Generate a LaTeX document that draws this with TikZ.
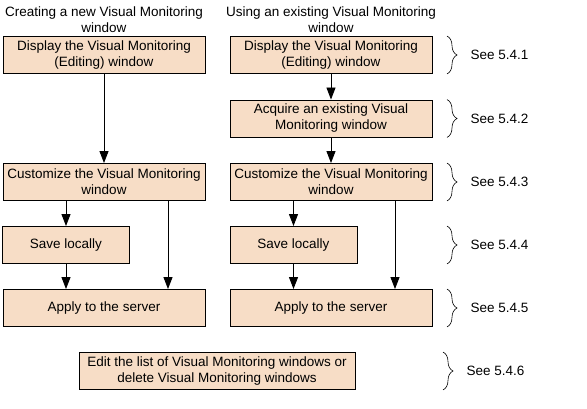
\documentclass[tikz,border=0pt]{standalone}
\usepackage{fontspec}
\setmainfont{Liberation Sans}
\usepackage{xcolor}
\usetikzlibrary{positioning, calc}
\usetikzlibrary{arrows.meta}
\usetikzlibrary{decorations.pathreplacing}
\definecolor{boxfill}{RGB}{247,221,198}

\begin{document}
\begin{tikzpicture}[x=1pt, y=-1pt,
  font=\fontsize{13.5}{16}\selectfont,
  stepbox/.style={draw, line width=0.9pt, fill=boxfill, align=center, inner sep=0pt, minimum height=37pt},
  wide/.style={stepbox, minimum width=202pt},
  half/.style={stepbox, minimum width=127pt},
  arr/.style={line width=0.9pt, -{Triangle[length=12pt, width=9pt]}},
  brc/.style={decorate, decoration={brace, amplitude=10pt}, line width=0.6pt},
  see/.style={midway, anchor=west, xshift=20pt}]
  \useasboundingbox (0,0) rectangle (587,409);
  % titles of the two ways
  \node[align=center] (headL) at (104,20) {Creating a new Visual Monitoring\\window};
  \node[align=center] (headR) at (331,20) {Using an existing Visual Monitoring\\window};
  % left column
  \node[wide] (dispL) at (104,55) {Display the Visual Monitoring\\(Editing) window};
  \node[wide] (custL) at (104,182) {Customize the Visual Monitoring\\window};
  \node[half] (saveL) at (66,245) {Save locally};
  \node[wide] (applyL) at (104,308) {Apply to the server};
  % right column
  \node[wide] (dispR) at (331,55) {Display the Visual Monitoring\\(Editing) window};
  \node[wide] (acq) at (331,118.5) {Acquire an existing Visual\\Monitoring window};
  \node[wide] (custR) at (331,182) {Customize the Visual Monitoring\\window};
  \node[half] (saveR) at (293.5,245) {Save locally};
  \node[wide] (applyR) at (331,308) {Apply to the server};
  \node[stepbox, minimum width=276pt] (edit) at (217,371) {Edit the list of Visual Monitoring windows or\\delete Visual Monitoring windows};

  \draw[arr] (dispL) -- (custL);
  \draw[arr] (custL.south -| saveL) -- (saveL);
  \draw[arr] (saveL) -- (saveL.south |- applyL.north);
  \draw[arr] ([xshift=64pt]custL.south) -- ([xshift=64pt]applyL.north);

  \draw[arr] (dispR) -- (acq);
  \draw[arr] (acq) -- (custR);
  \draw[arr] (custR.south -| saveR) -- (saveR);
  \draw[arr] (saveR) -- (saveR.south |- applyR.north);
  \draw[arr] ([xshift=64pt]custR.south) -- ([xshift=64pt]applyR.north);

  % section references
  \coordinate (bx) at (447,0);
  \foreach \n/\s in {dispR/5.4.1, acq/5.4.2, custR/5.4.3, saveR/5.4.4, applyR/5.4.5}
    \draw[brc] (\n.north -| bx) -- (\n.south -| bx) node[see] {See \s};
  \draw[brc] ([xshift=-4pt]bx |- edit.north) -- ([xshift=-4pt]bx |- edit.south) node[see] {See 5.4.6};
\end{tikzpicture}
\end{document}
